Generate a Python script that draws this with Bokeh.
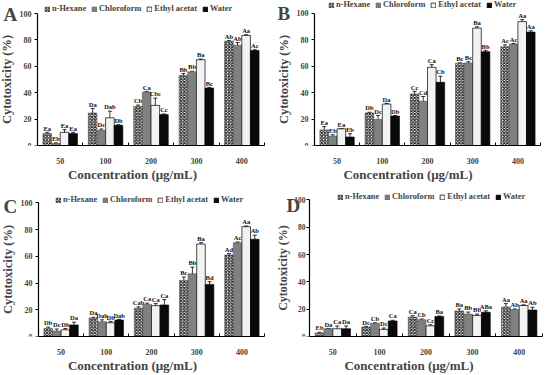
from bokeh.plotting import figure
from bokeh.layouts import column, row
from bokeh.models import ColumnDataSource, Whisker, TeeHead, FixedTicker, Label, Range1d
from bokeh.core.properties import value
from bokeh.embed import file_html
from bokeh.resources import INLINE

concentrations = ["50", "100", "200", "300", "400"]
series_names = ["n-Hexane", "Chloroform", "Ethyl acetat", "Water"]
y_ticks = [0, 20, 40, 60, 80, 100]

# Panel A
a_hexane = [9.0, 24.6, 29.6, 53.0, 79.0]
a_chloroform = [1.5, 11.5, 40.5, 55.8, 76.0]
a_ethyl = [10.0, 21.0, 30.4, 65.0, 83.4]
a_water = [9.0, 15.3, 23.4, 43.5, 72.0]
a_hexane_err = [1.0, 3.5, 1.0, 1.5, 0.5]
a_chloroform_err = [0.5, 1.0, 0.5, 0.5, 2.0]
a_ethyl_err = [2.0, 5.0, 5.5, 0.5, 0.5]
a_water_err = [1.0, 0.5, 0.5, 0.5, 0.5]
a_hexane_lbl = ["Ea", "Da", "Cb", "Bb", "Ab"]
a_chloroform_lbl = ["Eb", "Dc", "Ca", "Bb", "Ab"]
a_ethyl_lbl = ["Ea", "Dab", "Cbc", "Ba", "Aa"]
a_water_lbl = ["Ea", "Db", "Cc", "Bc", "Ac"]

# Panel B
b_hexane = [11.8, 24.6, 38.9, 62.0, 74.6]
b_chloroform = [7.1, 19.7, 33.5, 62.3, 76.6]
b_ethyl = [12.6, 31.3, 59.1, 88.7, 93.6]
b_water = [6.4, 22.2, 47.8, 70.9, 85.7]
b_hexane_err = [2.5, 0.5, 2.0, 0.5, 1.5]
b_chloroform_err = [1.0, 3.0, 3.5, 1.0, 0.5]
b_ethyl_err = [0.0, 0.5, 2.0, 1.0, 1.5]
b_water_err = [2.5, 0.5, 4.5, 1.0, 1.0]
b_hexane_lbl = ["Ea", "Db", "Cc", "Bc", "Ac"]
b_chloroform_lbl = ["Eb", "Dc", "Cd", "Bc", "Ac"]
b_ethyl_lbl = ["Ea", "Da", "Ca", "Ba", "Aa"]
b_water_lbl = ["Eb", "Db", "Cb", "Bb", "Aa"]

# Panel C
c_hexane = [6.0, 13.9, 21.2, 42.0, 61.0]
c_chloroform = [4.1, 11.0, 24.0, 46.9, 70.2]
c_ethyl = [5.0, 10.3, 23.1, 69.2, 82.2]
c_water = [8.7, 12.3, 23.6, 39.0, 72.8]
c_hexane_err = [1.0, 0.5, 1.0, 2.5, 1.0]
c_chloroform_err = [1.5, 1.5, 1.0, 5.0, 0.5]
c_ethyl_err = [1.0, 1.0, 1.5, 1.0, 0.5]
c_water_err = [2.0, 0.5, 4.0, 2.0, 3.0]
c_hexane_lbl = ["Db", "Da", "Cab", "Bc", "Ad"]
c_chloroform_lbl = ["Dc", "Dab", "Ca", "Bb", "Ac"]
c_ethyl_lbl = ["Db", "Db", "Ca", "Ba", "Aa"]
c_water_lbl = ["Da", "Dab", "Ca", "Bd", "Ab"]

# Panel D
d_hexane = [2.6, 6.9, 14.2, 18.7, 21.6]
d_chloroform = [5.7, 9.7, 12.3, 16.4, 19.7]
d_ethyl = [5.7, 5.2, 7.8, 15.4, 22.7]
d_water = [5.7, 11.4, 14.7, 17.8, 19.4]
d_hexane_err = [0.5, 0.5, 1.0, 1.5, 2.5]
d_chloroform_err = [0.2, 0.3, 0.5, 1.5, 0.5]
d_ethyl_err = [2.0, 1.0, 0.8, 1.0, 0.5]
d_water_err = [2.0, 0.5, 0.3, 1.0, 2.0]
d_hexane_lbl = ["Eb", "Dc", "Ca", "Ba", "Aa"]
d_chloroform_lbl = ["Da", "Cb", "Cb", "Bb", "Ab"]
d_ethyl_lbl = ["Ca", "Dc", "Cc", "Bb", "Aa"]
d_water_lbl = ["Da", "Ca", "Ba", "ABa", "Ab"]

FONT = "Liberation Serif"
STYLES = [
    dict(fill_color="#ffffff", hatch_pattern="x", hatch_color="#2e2e2e", hatch_scale=3.2,
         hatch_weight=1.2, line_color="#444444", line_width=0.6),
    dict(fill_color="#808080", line_color="#505050", line_width=0.6),
    dict(fill_color="#f2f2f2", line_color="#000000", line_width=0.7),
    dict(fill_color="#0a0a0a", line_color="#000000", line_width=0.6),
]
BW = 0.19


def make_panel(letter, vals, errs, lbls, width, height,
               axis_px, right_px, top100_px, zero_px, leg_px, letter_px,
               ytick_size="8px", ytitle_size="12.5px", ystand=3):
    """Pixel geometry (inside the figure canvas): axis_px = x of the y-axis,
    right_px = right end of x-axis, top100_px / zero_px = y of 100 and 0."""
    n = len(concentrations)
    ux = (right_px - axis_px) / n          # px per category
    uy = (zero_px - top100_px) / 100.0      # px per percent
    x0 = -axis_px / ux
    ytop = 100 + top100_px / uy
    p = figure(width=width, height=height, output_backend="svg", toolbar_location=None,
               x_range=Range1d(x0, n), y_range=Range1d(0, ytop),
               min_border_left=0, min_border_right=width - right_px, min_border_top=0,
               min_border_bottom=height - zero_px)
    p.outline_line_color = None
    p.grid.visible = False
    for k, name in enumerate(series_names):
        xs = [i + 0.5 + (k - 1.5) * BW for i in range(n)]
        up = [v + e for v, e in zip(vals[k], errs[k])]
        lo = [v - e for v, e in zip(vals[k], errs[k])]
        src = ColumnDataSource(dict(x=xs, top=vals[k], upper=up, lower=lo,
                                    ly=[u + 0.6 for u in up], lbl=lbls[k]))
        p.vbar(x="x", top="top", width=BW, bottom=0, source=src, legend_label=name,
               **STYLES[k])
        p.add_layout(Whisker(source=src, base="x", upper="upper", lower="lower",
                             line_color="black", line_width=0.8,
                             upper_head=TeeHead(size=4, line_width=0.8, line_color="black"),
                             lower_head=TeeHead(size=4, line_width=0.8, line_color="black")))
        p.text(x="x", y="ly", text="lbl", source=src, text_font=value(FONT),
               text_font_style="bold", text_font_size="6.5px", text_align="center",
               text_baseline="bottom", text_color="#111111")

    xa = p.xaxis[0]
    xa.bounds = (0, n)
    xa.ticker = FixedTicker(ticks=[i + 0.5 for i in range(n)],
                            minor_ticks=[float(i) for i in range(n + 1)])
    xa.major_label_overrides = {i + 0.5: c for i, c in enumerate(concentrations)}
    xa.major_tick_line_color = None
    xa.minor_tick_in = 3
    xa.minor_tick_out = 0
    xa.minor_tick_line_color = "black"
    xa.axis_line_color = "black"
    xa.axis_line_width = 1.2
    xa.major_label_text_font = FONT
    xa.major_label_text_font_style = "bold"
    xa.major_label_text_font_size = "8px"
    xa.major_label_standoff = 6
    xa.axis_label = "Concentration (μg/mL)"
    xa.axis_label_text_font = FONT
    xa.axis_label_text_font_style = "bold"
    xa.axis_label_text_font_size = "13px"
    xa.axis_label_standoff = 0

    ya = p.yaxis[0]
    ya.fixed_location = 0
    ya.bounds = (0, 100)
    ya.ticker = FixedTicker(ticks=y_ticks)
    ya.minor_tick_line_color = None
    ya.major_tick_in = 0
    ya.major_tick_out = 3
    ya.major_tick_line_color = "black"
    ya.axis_line_color = "black"
    ya.axis_line_width = 1.2
    ya.major_label_text_font = FONT
    ya.major_label_text_font_style = "bold"
    ya.major_label_text_font_size = ytick_size
    ya.major_label_standoff = ystand
    ya.axis_label = "Cytotoxicity (%)"
    ya.axis_label_text_font = FONT
    ya.axis_label_text_font_style = "bold"
    ya.axis_label_text_font_size = ytitle_size
    ya.axis_label_standoff = ystand

    lg = p.legend[0]
    lg.location = (leg_px[0], zero_px - leg_px[1])
    lg.orientation = "horizontal"
    lg.background_fill_alpha = 0
    lg.border_line_color = None
    lg.padding = 0
    lg.margin = 0
    lg.spacing = 5
    lg.glyph_width = 6
    lg.glyph_height = 6
    lg.label_standoff = 2
    lg.label_height = 8
    lg.label_text_font = FONT
    lg.label_text_font_style = "bold"
    lg.label_text_font_size = "8.3px"

    p.add_layout(Label(x=x0 + letter_px[0] / ux, y=ytop - letter_px[1] / uy,
                       text=letter, text_font=FONT, text_font_style="bold",
                       text_font_size="19px", text_align="left", text_baseline="top"))
    return p


pa = make_panel("A", [a_hexane, a_chloroform, a_ethyl, a_water],
                [a_hexane_err, a_chloroform_err, a_ethyl_err, a_water_err],
                [a_hexane_lbl, a_chloroform_lbl, a_ethyl_lbl, a_water_lbl],
                275, 187, 37, 264, 13, 145, (44, 13), (3, 3))
pb = make_panel("B", [b_hexane, b_chloroform, b_ethyl, b_water],
                [b_hexane_err, b_chloroform_err, b_ethyl_err, b_water_err],
                [b_hexane_lbl, b_chloroform_lbl, b_ethyl_lbl, b_water_lbl],
                275, 187, 39, 265, 13, 149, (53, 13), (2, 3))
pc = make_panel("C", [c_hexane, c_chloroform, c_ethyl, c_water],
                [c_hexane_err, c_chloroform_err, c_ethyl_err, c_water_err],
                [c_hexane_lbl, c_chloroform_lbl, c_ethyl_lbl, c_water_lbl],
                275, 188, 38, 264, 16, 155, (55, 23), (3, 9))
pd_ = make_panel("D", [d_hexane, d_chloroform, d_ethyl, d_water],
                 [d_hexane_err, d_chloroform_err, d_ethyl_err, d_water_err],
                 [d_hexane_lbl, d_chloroform_lbl, d_ethyl_lbl, d_water_lbl],
                 275, 188, 34, 267, 13, 155, (62, 20), (11, 8),
                 ytick_size="7.5px", ytitle_size="12px", ystand=1)

layout = column(row(pa, pb), row(pc, pd_))
open("out.html", "w").write(file_html(layout, INLINE))
